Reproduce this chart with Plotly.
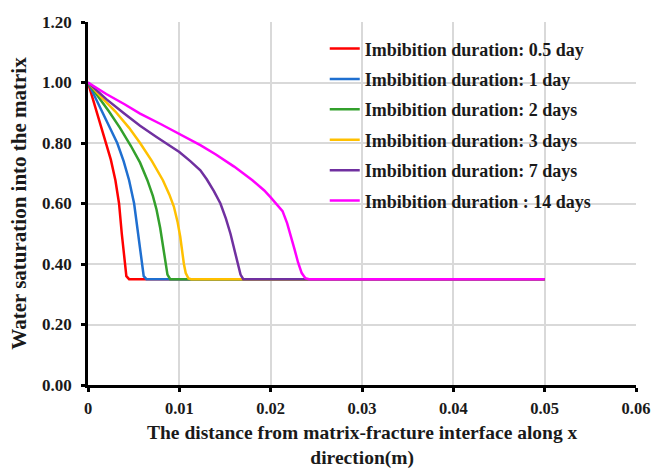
import plotly.graph_objects as go

names = [
    "Imbibition duration: 0.5 day",
    "Imbibition duration: 1 day",
    "Imbibition duration: 2 days",
    "Imbibition duration: 3 days",
    "Imbibition duration: 7 days",
    "Imbibition duration : 14 days",
]
colors = ["#FF0000", "#1F6FD0", "#33A02C", "#FFC000", "#7030A0", "#FF00FF"]

x_title_lines = ["The distance from matrix-fracture interface along x", "direction(m)"]
y_title = "Water saturation into the matrix"

x_05 = [0, 0.0005, 0.001, 0.0015, 0.002, 0.0025, 0.003, 0.0034, 0.0037, 0.004, 0.0042, 0.0045, 0.05]
s_05 = [1.0, 0.95, 0.895, 0.85, 0.80, 0.745, 0.677, 0.60, 0.50, 0.40, 0.36, 0.35, 0.35]

x_1 = [0, 0.0008, 0.0016, 0.0024, 0.0032, 0.0039, 0.0045, 0.00505, 0.0054, 0.0057, 0.0059, 0.0061, 0.0064, 0.05]
s_1 = [1.0, 0.95, 0.902, 0.852, 0.80, 0.74, 0.677, 0.60, 0.52, 0.44, 0.39, 0.36, 0.35, 0.35]

x_2 = [0, 0.001, 0.0023, 0.0035, 0.0047, 0.0057, 0.0065, 0.0071, 0.0075, 0.0079, 0.0082, 0.0085, 0.0087, 0.009, 0.05]
s_2 = [1.0, 0.96, 0.904, 0.85, 0.79, 0.735, 0.677, 0.625, 0.58, 0.52, 0.46, 0.40, 0.365, 0.35, 0.35]

x_3 = [0, 0.0015, 0.003, 0.0045, 0.0057, 0.007, 0.0082, 0.0089, 0.0094, 0.0098, 0.0101, 0.0103, 0.0105, 0.0107, 0.011, 0.0113, 0.05]
s_3 = [1.0, 0.95, 0.904, 0.85, 0.80, 0.74, 0.677, 0.63, 0.59, 0.54, 0.49, 0.44, 0.40, 0.37, 0.352, 0.35, 0.35]

x_7 = [0, 0.002, 0.004, 0.0057, 0.0075, 0.0088, 0.010, 0.0112, 0.0123, 0.013, 0.0138, 0.0145, 0.0151, 0.0156, 0.016, 0.0164, 0.0167, 0.017, 0.05]
s_7 = [1.0, 0.945, 0.897, 0.857, 0.82, 0.795, 0.77, 0.74, 0.71, 0.68, 0.64, 0.60, 0.55, 0.50, 0.45, 0.40, 0.365, 0.35, 0.35]

x_14 = [0, 0.002, 0.004, 0.0057, 0.008, 0.010, 0.0123, 0.014, 0.016, 0.018, 0.0193, 0.020, 0.0207, 0.0213, 0.0218, 0.0222, 0.0226, 0.023, 0.0234, 0.0238, 0.0242, 0.05]
s_14 = [1.0, 0.962, 0.928, 0.897, 0.862, 0.831, 0.793, 0.762, 0.722, 0.677, 0.643, 0.62, 0.595, 0.575, 0.535, 0.495, 0.45, 0.405, 0.37, 0.353, 0.35, 0.35]

xs = [x_05, x_1, x_2, x_3, x_7, x_14]
ss = [s_05, s_1, s_2, s_3, s_7, s_14]

serif = "Liberation Serif, Times New Roman, serif"

fig = go.Figure()
for i, (x, s) in enumerate(zip(xs, ss)):
    fig.add_trace(go.Scatter(
        x=x, y=s, mode="lines", name=names[i], legendgroup=f"g{i}",
        line=dict(color=colors[i], width=2.5, shape="linear"),
    ))

fig.update_layout(
    width=651, height=471,
    margin=dict(l=88, r=15, t=22, b=86, autoexpand=False),
    paper_bgcolor="white", plot_bgcolor="white",
    font=dict(family=serif, color="#1a1a1a", size=17),
    legend=dict(
        x=0.432, y=0.977, xanchor="left", yanchor="top",
        bgcolor="rgba(0,0,0,0)", tracegroupgap=4,
        font=dict(family=serif, size=18, color="#1a1a1a", weight="bold"),
    ),
    xaxis=dict(
        range=[0, 0.06], dtick=0.01, tick0=0, automargin=False,
        showgrid=True, gridcolor="#d9d9d9", gridwidth=1.5,
        showline=True, linecolor="black", linewidth=2.5,
        ticks="outside", ticklen=4, tickwidth=2.5, tickcolor="black",
        ticklabelstandoff=2,
        tickfont=dict(family=serif, size=16.5, weight="bold"),
        zeroline=False,
    ),
    yaxis=dict(
        range=[0, 1.2], dtick=0.2, tick0=0, tickformat=".2f", automargin=False,
        showgrid=True, gridcolor="#d9d9d9", gridwidth=1.5,
        showline=True, linecolor="black", linewidth=2.5,
        ticks="outside", ticklen=4, tickwidth=2.5, tickcolor="black",
        ticklabelstandoff=6,
        tickfont=dict(family=serif, size=17, weight="bold"),
        zeroline=False,
        title=dict(
            text=f"<b>{y_title}</b>",
            font=dict(family=serif, size=21), standoff=10,
        ),
    ),
)

# x-axis title (two lines) placed below the tick labels
plot_h = 471 - 22 - 86
fig.add_annotation(
    text="<b>" + "<br>".join(x_title_lines) + "</b>", xref="paper", yref="paper",
    x=0.5, y=(385 - 470.5) / plot_h, xanchor="center", yanchor="bottom",
    showarrow=False, align="center",
    font=dict(family=serif, size=19.5, color="#1a1a1a"),
)

fig.write_html("out.html")
